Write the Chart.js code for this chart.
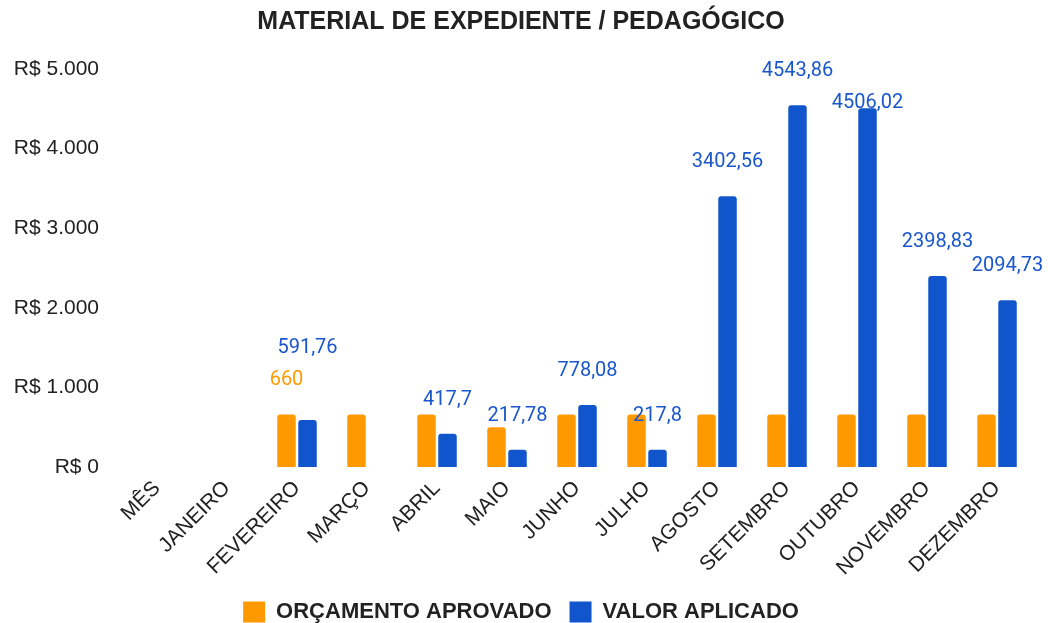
<!DOCTYPE html>
<html lang="pt-BR">
<head>
<meta charset="utf-8">
<title>Material de expediente / pedagógico</title>
<script src="https://cdn.jsdelivr.net/npm/chart.js@4.4.1/dist/chart.umd.min.js"></script>
<style>
  html, body { margin: 0; padding: 0; background: #fff; }
</style>
</head>
<body>
<canvas id="grafico" width="1048" height="623"></canvas>
<script>
// Dados
const meses = ['MÊS', 'JANEIRO', 'FEVEREIRO', 'MARÇO', 'ABRIL', 'MAIO', 'JUNHO', 'JULHO', 'AGOSTO', 'SETEMBRO', 'OUTUBRO', 'NOVEMBRO', 'DEZEMBRO'];
const orcamentoAprovado = [null, null, 660, 660, 660, 500, 660, 660, 660, 660, 660, 660, 660];
const valorAplicado = [null, null, 591.76, null, 417.7, 217.78, 778.08, 217.8, 3402.56, 4543.86, 4506.02, 2398.83, 2094.73];
const ticksY = [0, 1000, 2000, 3000, 4000, 5000];

const LARANJA = '#ff9900';
const AZUL = '#1155cc';
const FONTE = '"Liberation Sans", Arial, sans-serif';

// R$ 5.000
function formataReal(v) {
    return 'R$ ' + String(v).replace(/\B(?=(\d{3})+(?!\d))/g, '.');
}

// Rótulos de valor em cima das barras (sem plugin externo)
const rotulosPlugin = {
    id: 'rotulos',
    afterDatasetsDraw(chart) {
        const ctx = chart.ctx;
        const area = chart.chartArea;
        const h = 24;
        const folga = 8;
        const ocupados = [];

        ctx.save();
        ctx.font = '20px Roboto, sans-serif';
        ctx.textAlign = 'center';
        ctx.textBaseline = 'middle';

        chart.data.datasets.forEach((ds, di) => {
            const meta = chart.getDatasetMeta(di);
            const primeiro = ds.data.findIndex(x => x != null);

            ds.data.forEach((v, i) => {
                if (v == null) return;
                // o orçamento só mostra o primeiro rótulo, os outros ficam escondidos
                if (di === 0 && i !== primeiro) return;

                const barra = meta.data[i];
                const texto = String(v).replace('.', ',');
                const w = ctx.measureText(texto).width;
                const cx = barra.x;
                let y = barra.y - 34;

                const bate = (yy) => ocupados.find(o =>
                    cx - w / 2 < o.r && cx + w / 2 > o.l &&
                    yy - h / 2 < o.b && yy + h / 2 > o.t);

                // se encostar em outro rótulo, sobe; se não couber em cima, desce
                let o = bate(y);
                let tentativas = 0;
                while (o && tentativas < 5) {
                    let novo = o.t - folga - h / 2;
                    if (novo - h / 2 < area.top - 15) {
                        novo = o.b + folga + h / 2;
                    }
                    y = novo;
                    o = bate(y);
                    tentativas++;
                }

                ctx.fillStyle = di === 0 ? LARANJA : '#1a56cc';
                ctx.fillText(texto, cx, y);
                ocupados.push({ l: cx - w / 2, r: cx + w / 2, t: y - h / 2, b: y + h / 2 });
            });
        });

        ctx.restore();
    }
};

new Chart(document.getElementById('grafico'), {
    type: 'bar',
    data: {
        labels: meses,
        datasets: [
            {
                label: 'ORÇAMENTO APROVADO',
                data: orcamentoAprovado,
                backgroundColor: LARANJA
            },
            {
                label: 'VALOR APLICADO',
                data: valorAplicado,
                backgroundColor: AZUL
            }
        ]
    },
    options: {
        responsive: false,
        animation: false,
        datasets: {
            bar: {
                categoryPercentage: 0.6,
                barPercentage: 0.88,
                borderRadius: { topLeft: 3, topRight: 3 }
            }
        },
        layout: {
            padding: { top: 0, right: 16, bottom: -10, left: 10 }
        },
        plugins: {
            title: {
                display: true,
                text: 'MATERIAL DE EXPEDIENTE / PEDAGÓGICO',
                color: '#222',
                font: { family: FONTE, size: 25, weight: 'bold' },
                padding: { top: 7, bottom: 32 }
            },
            legend: {
                position: 'bottom',
                labels: {
                    boxWidth: 22,
                    boxHeight: 21,
                    padding: 18,
                    color: '#222',
                    font: { family: FONTE, size: 22, weight: 'bold' }
                }
            },
            tooltip: { enabled: false }
        },
        scales: {
            x: {
                grid: { display: false, drawTicks: false },
                border: { display: false },
                ticks: {
                    autoSkip: false,
                    minRotation: 45,
                    maxRotation: 45,
                    padding: 9,
                    color: '#222',
                    font: { family: FONTE, size: 21 }
                },
                afterFit(scale) {
                    scale.height = 116;
                }
            },
            y: {
                min: 0,
                max: 5000,
                grid: { display: false, drawTicks: false },
                border: { display: false },
                ticks: {
                    padding: 23,
                    color: '#222',
                    font: { family: FONTE, size: 21 },
                    callback: v => formataReal(v)
                },
                afterBuildTicks(scale) {
                    scale.ticks = ticksY.map(v => ({ value: v }));
                },
                afterFit(scale) {
                    scale.width = 112;
                }
            }
        }
    },
    plugins: [rotulosPlugin]
});
</script>
</body>
</html>
